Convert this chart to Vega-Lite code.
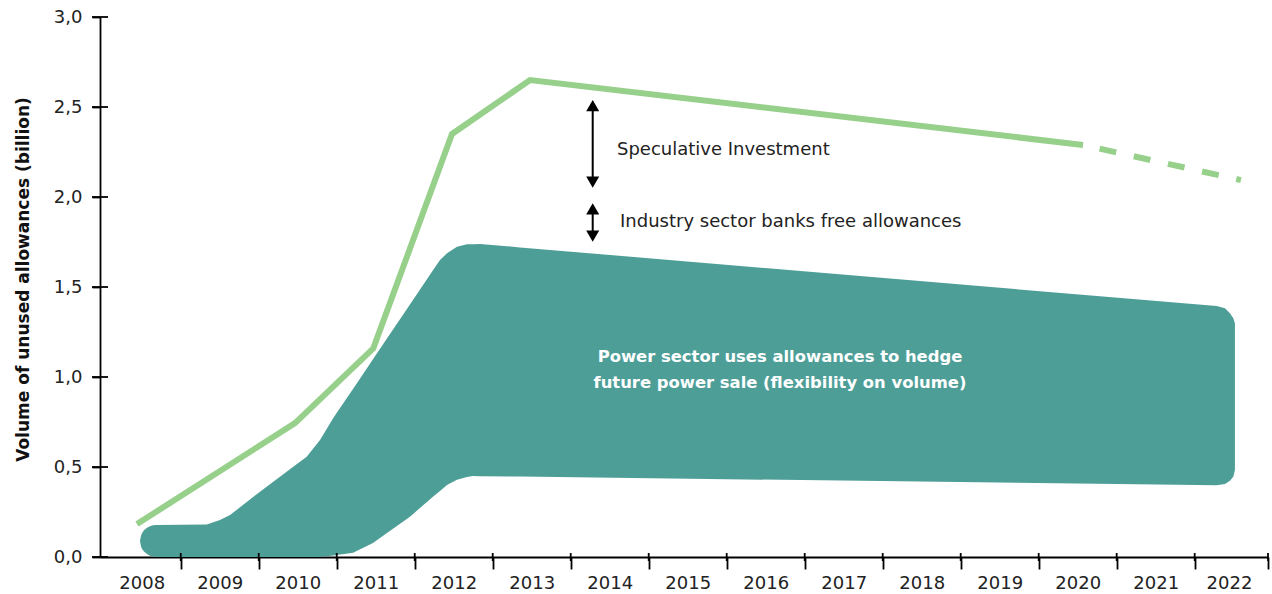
{
  "$schema": "https://vega.github.io/schema/vega-lite/v6.json",
  "width": 1168,
  "height": 540,
  "autosize": {"type": "none"},
  "padding": {"left": 100, "top": 17, "right": 4, "bottom": 37},
  "background": "white",
  "config": {"view": {"stroke": null}, "font": "DejaVu Sans"},
  "datasets": {
    "area": [
      {"year": 2007.978, "top": 0.089, "bottom": 0.089},
      {"year": 2007.991, "top": 0.12, "bottom": 0.058},
      {"year": 2008.003, "top": 0.132, "bottom": 0.046},
      {"year": 2008.029, "top": 0.148, "bottom": 0.03},
      {"year": 2008.068, "top": 0.162, "bottom": 0.016},
      {"year": 2008.106, "top": 0.171, "bottom": 0.007},
      {"year": 2008.145, "top": 0.176, "bottom": 0.002},
      {"year": 2008.183, "top": 0.178, "bottom": 0},
      {"year": 2008.833, "top": 0.181, "bottom": 0},
      {"year": 2009.003, "top": 0.206, "bottom": 0},
      {"year": 2009.132, "top": 0.233, "bottom": 0},
      {"year": 2009.26, "top": 0.276, "bottom": 0},
      {"year": 2009.516, "top": 0.363, "bottom": 0},
      {"year": 2009.943, "top": 0.502, "bottom": 0},
      {"year": 2010.115, "top": 0.557, "bottom": 0},
      {"year": 2010.286, "top": 0.65, "bottom": 0},
      {"year": 2010.456, "top": 0.772, "bottom": 0.009},
      {"year": 2010.503, "top": 0.803, "bottom": 0.011},
      {"year": 2010.709, "top": 0.934, "bottom": 0.024},
      {"year": 2010.965, "top": 1.098, "bottom": 0.078},
      {"year": 2011.144, "top": 1.214, "bottom": 0.133},
      {"year": 2011.439, "top": 1.403, "bottom": 0.224},
      {"year": 2011.734, "top": 1.593, "bottom": 0.335},
      {"year": 2011.824, "top": 1.65, "bottom": 0.367},
      {"year": 2011.914, "top": 1.687, "bottom": 0.4},
      {"year": 2012.042, "top": 1.724, "bottom": 0.429},
      {"year": 2012.17, "top": 1.737, "bottom": 0.444},
      {"year": 2012.247, "top": 1.738, "bottom": 0.45},
      {"year": 2012.337, "top": 1.739, "bottom": 0.449},
      {"year": 2012.85, "top": 1.72, "bottom": 0.447},
      {"year": 2021.782, "top": 1.394, "bottom": 0.398},
      {"year": 2021.888, "top": 1.382, "bottom": 0.406},
      {"year": 2021.952, "top": 1.354, "bottom": 0.424},
      {"year": 2021.995, "top": 1.326, "bottom": 0.446},
      {"year": 2022.016, "top": 1.298, "bottom": 0.483}
    ],
    "solid": [
      {"year": 2007.939, "top": 0.183},
      {"year": 2009.965, "top": 0.744},
      {"year": 2010.969, "top": 1.159},
      {"year": 2011.978, "top": 2.35},
      {"year": 2012.978, "top": 2.65},
      {"year": 2020.068, "top": 2.289}
    ],
    "dashed": [
      {"year": 2020.068, "top": 2.289},
      {"year": 2022.093, "top": 2.094}
    ],
    "arrows": [
      {"year": 2013.782, "top": 2.508, "bottom": 2.083},
      {"year": 2013.782, "top": 1.934, "bottom": 1.783}
    ],
    "heads": [
      {"year": 2013.782, "top": 2.508, "shape": "triangle-up"},
      {"year": 2013.782, "top": 2.083, "shape": "triangle-down"},
      {"year": 2013.782, "top": 1.934, "shape": "triangle-up"},
      {"year": 2013.782, "top": 1.783, "shape": "triangle-down"}
    ],
    "notes": [
      {"year": 2014.093, "top": 2.261, "label": "Speculative Investment"},
      {"year": 2014.132, "top": 1.863, "label": "Industry sector banks free allowances"}
    ],
    "boldnotes": [
      {"year": 2016.183, "top": 1.113, "label": "Power sector uses allowances to hedge"},
      {"year": 2016.183, "top": 0.967, "label": "future power sale (flexibility on volume)"}
    ],
    "yticks": [
      {"top": 0}, {"top": 0.5}, {"top": 1}, {"top": 1.5}, {"top": 2}, {"top": 2.5}, {"top": 3}
    ],
    "xticks": [
      {"year": 2008.5}, {"year": 2009.5}, {"year": 2010.5}, {"year": 2011.5}, {"year": 2012.5},
      {"year": 2013.5}, {"year": 2014.5}, {"year": 2015.5}, {"year": 2016.5}, {"year": 2017.5},
      {"year": 2018.5}, {"year": 2019.5}, {"year": 2020.5}, {"year": 2021.5}, {"year": 2022.44}
    ]
  },
  "layer": [
    {
      "data": {"name": "area"},
      "mark": {"type": "area", "color": "#4E9E98", "interpolate": "linear", "opacity": 1},
      "encoding": {
        "x": {
          "field": "year", "type": "quantitative",
          "scale": {"domain": [2007.465, 2022.44], "nice": false, "zero": false},
          "axis": {
            "title": null,
            "values": [2008.5, 2009.5, 2010.5, 2011.5, 2012.5, 2013.5, 2014.5, 2015.5, 2016.5, 2017.5, 2018.5, 2019.5, 2020.5, 2021.5, 2022.44],
            "labelExpr": "floor(datum.value)",
            "labelOffset": -39,
            "labelFlush": false,
            "labelOverlap": false,
            "labelFontSize": 18,
            "labelColor": "#222222",
            "labelPadding": 5,
            "tickSize": 12,
            "tickWidth": 1.8,
            "tickColor": "#000000",
            "domainColor": "#000000",
            "domainWidth": 1.8,
            "grid": false
          }
        },
        "y": {
          "field": "top", "type": "quantitative",
          "scale": {"domain": [0, 3], "nice": false, "zero": false},
          "axis": {
            "title": "Volume of  unused allowances (billion)",
            "titleFont": "DejaVu Sans",
            "titleFontWeight": "bold",
            "titleFontSize": 17,
            "titleColor": "#111111",
            "titleAngle": 270,
            "titleX": -77,
            "titleY": 262,
            "titleAlign": "center",
            "titleBaseline": "middle",
            "values": [0, 0.5, 1, 1.5, 2, 2.5, 3],
            "labelExpr": "replace(format(datum.value, '.1f'), '.', ',')",
            "labelFontSize": 18,
            "labelColor": "#222222",
            "labelPadding": 10,
            "tickSize": 8,
            "tickWidth": 1.8,
            "tickColor": "#000000",
            "domainColor": "#000000",
            "domainWidth": 1.8,
            "grid": false
          }
        },
        "y2": {"field": "bottom"}
      }
    },
    {
      "data": {"name": "solid"},
      "mark": {"type": "line", "color": "#96D08A", "strokeWidth": 6, "strokeCap": "butt"},
      "encoding": {
        "x": {"field": "year", "type": "quantitative"},
        "y": {"field": "top", "type": "quantitative"}
      }
    },
    {
      "data": {"name": "dashed"},
      "mark": {"type": "line", "color": "#96D08A", "strokeWidth": 6, "strokeCap": "butt", "strokeDash": [17, 18], "strokeDashOffset": 18},
      "encoding": {
        "x": {"field": "year", "type": "quantitative"},
        "y": {"field": "top", "type": "quantitative"}
      }
    },
    {
      "data": {"name": "arrows"},
      "mark": {"type": "rule", "color": "#000000", "strokeWidth": 2},
      "encoding": {
        "x": {"field": "year", "type": "quantitative"},
        "y": {"field": "top", "type": "quantitative"},
        "y2": {"field": "bottom"}
      }
    },
    {
      "data": {"name": "heads"},
      "mark": {"type": "point", "filled": true, "color": "#000000", "opacity": 1, "size": 170},
      "encoding": {
        "x": {"field": "year", "type": "quantitative"},
        "y": {"field": "top", "type": "quantitative"},
        "shape": {"field": "shape", "type": "nominal", "scale": null, "legend": null}
      }
    },
    {
      "data": {"name": "notes"},
      "mark": {"type": "text", "align": "left", "baseline": "middle", "fontSize": 18, "color": "#222222", "font": "DejaVu Sans"},
      "encoding": {
        "x": {"field": "year", "type": "quantitative"},
        "y": {"field": "top", "type": "quantitative"},
        "text": {"field": "label"}
      }
    },
    {
      "data": {"name": "boldnotes"},
      "mark": {"type": "text", "align": "center", "baseline": "middle", "fontSize": 16.4, "fontWeight": "bold", "color": "#FFFFFF", "font": "DejaVu Sans"},
      "encoding": {
        "x": {"field": "year", "type": "quantitative"},
        "y": {"field": "top", "type": "quantitative"},
        "text": {"field": "label"}
      }
    },
    {
      "data": {"name": "yticks"},
      "mark": {"type": "tick", "orient": "horizontal", "size": 16, "thickness": 1.8, "color": "#000000", "opacity": 1},
      "encoding": {
        "x": {"datum": 2007.465, "type": "quantitative"},
        "y": {"field": "top", "type": "quantitative"}
      }
    },
    {
      "data": {"name": "xticks"},
      "mark": {"type": "tick", "orient": "vertical", "size": 8, "thickness": 1.8, "color": "#000000", "opacity": 1},
      "encoding": {
        "x": {"field": "year", "type": "quantitative"},
        "y": {"datum": 0, "type": "quantitative"}
      }
    }
  ]
}
